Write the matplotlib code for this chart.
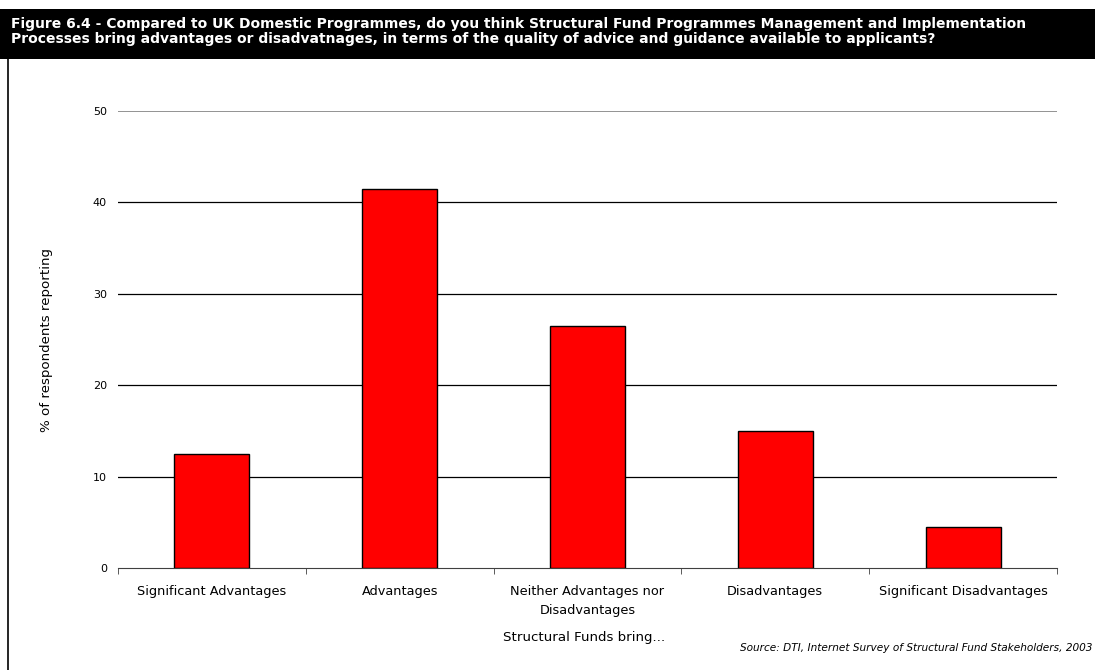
import matplotlib
matplotlib.use('Agg')
import matplotlib.pyplot as plt
from matplotlib.patches import Rectangle
import numpy as np

categories = ['Significant Advantages', 'Advantages', 'Neither Advantages nor\nDisadvantages',
              'Disadvantages', 'Significant Disadvantages']
values = [12.5, 41.5, 26.5, 15.0, 4.5]
y_ticks = [0, 10, 20, 30, 40, 50]

title = ('Figure 6.4 - Compared to UK Domestic Programmes, do you think Structural Fund Programmes Management and Implementation\n'
         'Processes bring advantages or disadvatnages, in terms of the quality of advice and guidance available to applicants?')

W, H = 1095, 670
fig = plt.figure(figsize=(W / 100, H / 100), dpi=100)

# black title bar and left frame line
fig.patches.append(Rectangle((0, 1 - 59 / H), 1, 50 / H, transform=fig.transFigure,
                             facecolor='black', edgecolor='none'))
fig.lines.append(plt.Line2D([7.5 / W, 7.5 / W], [0, 1 - 59 / H], transform=fig.transFigure,
                            color='black', lw=1.2))
fig.text(11 / W, 1 - 31.5 / H, title, color='white', fontweight='bold', fontsize=10.0,
         va='center', ha='left', linespacing=1.15)

ax = fig.add_axes([118 / W, 1 - 568 / H, (1057 - 118) / W, (568 - 111) / H])
x = np.arange(len(categories))
ax.bar(x, values, width=0.4, color='#ff0000', edgecolor='black', linewidth=1, zorder=3)
ax.set_xlim(-0.5, len(categories) - 0.5)
ax.set_ylim(0, 50)
ax.set_yticks(y_ticks)
for v in y_ticks[1:-1]:
    ax.axhline(v, color='black', lw=0.9, zorder=1)
ax.axhline(50, color='#808080', lw=1.2, zorder=1)
for s in ['top', 'right', 'left']:
    ax.spines[s].set_visible(False)
ax.spines['bottom'].set_color('#404040')
ax.tick_params(axis='y', length=0, labelsize=8, pad=8)
ax.set_xticks(x)
ax.set_xticklabels(categories, fontsize=9.3, linespacing=1.6)
ax.tick_params(axis='x', length=0, pad=12)
ax.set_xticks(np.arange(len(categories) + 1) - 0.5, minor=True)
ax.tick_params(axis='x', which='minor', length=4, color='#404040', direction='out')

fig.text(47 / W, 1 - 340 / H, '% of respondents reporting', rotation=90, fontsize=9.6,
         ha='center', va='center')
fig.text(584 / W, 1 - 637 / H, 'Structural Funds bring...', fontsize=9.6, ha='center', va='center')
fig.text(1092 / W, 1 - 648 / H, 'Source: DTI, Internet Survey of Structural Fund Stakeholders, 2003',
         fontsize=7.6, style='italic', ha='right', va='center')

fig.savefig('out.png', dpi=100)
